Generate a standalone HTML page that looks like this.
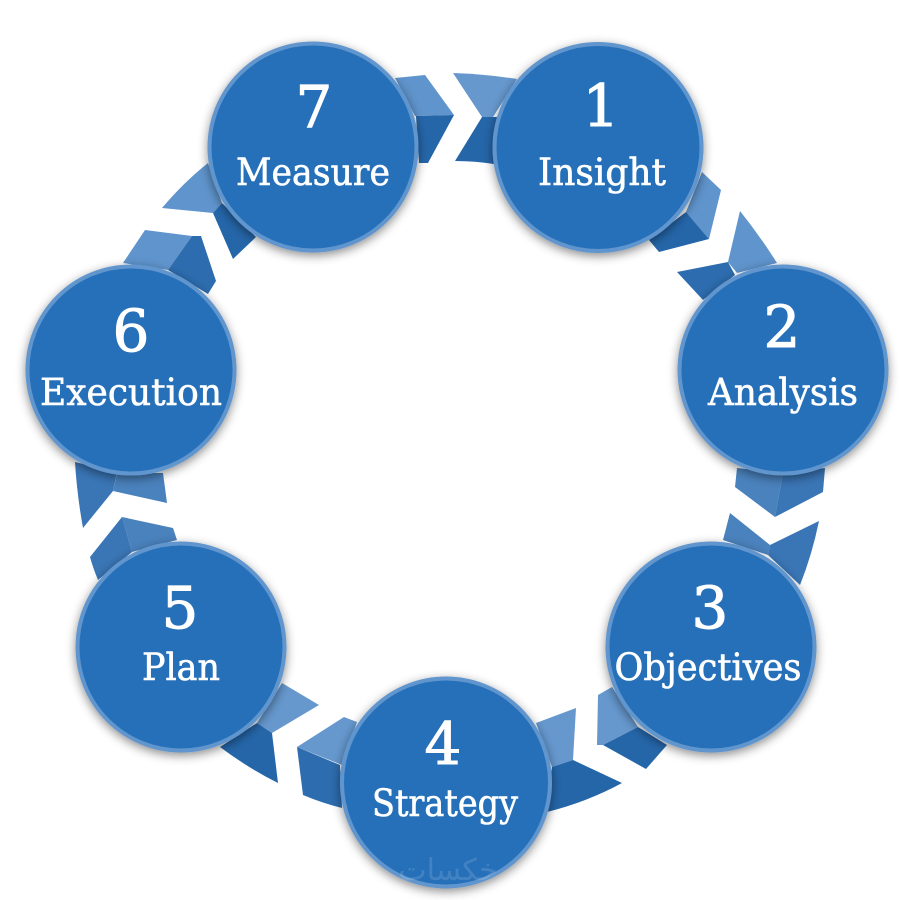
<!DOCTYPE html>
<html>
<head>
<meta charset="utf-8">
<style>
html,body{margin:0;padding:0;background:#fff;width:900px;height:900px;overflow:hidden}
svg{display:block}
text{font-family:"DejaVu Serif","Liberation Serif",serif;fill:#fff;stroke:#fff;stroke-width:.6;text-anchor:middle}
.n{font-size:58px;stroke-width:1}
.l{font-size:37px}
.w{font-family:"DejaVu Sans",sans-serif;font-size:30px;fill:#fff;stroke:none;opacity:.13}
</style>
</head>
<body>
<svg width="900" height="900" viewBox="0 0 900 900" xmlns="http://www.w3.org/2000/svg">
<defs>
<filter id="s" x="-20%" y="-20%" width="140%" height="140%">
<feDropShadow dx="0" dy="3" stdDeviation="5" flood-color="#000" flood-opacity=".45"/>
</filter>
</defs>

<!-- 7 to 1 -->
<polygon fill="#5f94cc" points="395,78 425,75 454,115 415,116"/>
<polygon fill="#2566a9" points="416,116 454,115 428,163 419,163"/>
<path fill="#6698ce" d="M453,73 Q485,74 517,79 L493,117 L482,117 Z"/>
<path fill="#2566a9" d="M482,117 L497,117 L494,164 Q475,161 455,161 Z"/>

<!-- 1 to 2 -->
<polygon fill="#5f94cc" points="702,172 721,190 709,239 686,212"/>
<polygon fill="#2566a9" points="686,212 709,239 659,252 649,240"/>
<path fill="#5f94cc" d="M740,211 Q760,236 777,263 L737,273 L728,262 Z"/>
<polygon fill="#2d6cae" points="677,272 728,262 735,275 703,300"/>

<!-- 2 to 3 -->
<polygon fill="#4a82bd" points="737,468 735,487 775,517 783,473"/>
<polygon fill="#3a75b5" points="783,473 825,468 823,492 775,517"/>
<polygon fill="#4a82bd" points="730,513 770,545 768,555 723,540"/>
<path fill="#3a75b5" d="M770,545 L819,521 Q812,555 800,585 L768,555 Z"/>

<!-- 3 to 4 -->
<polygon fill="#6698ce" points="598,695 612,687 638,727 603,745 597,745"/>
<polygon fill="#2566a9" points="603,745 638,727 667,745 646,769"/>
<polygon fill="#6698ce" points="536,723 576,708 573,760 552,767"/>
<path fill="#2566a9" d="M573,760 L622,783 Q587,802 547,812 L552,767 Z"/>

<!-- 4 to 5 -->
<polygon fill="#6698ce" points="344,717 357,722 342,765 297,747"/>
<path fill="#2d6cae" d="M297,747 L340,765 L342,808 Q322,803 303,795 Z"/>
<polygon fill="#6698ce" points="282,683 319,705 272,733 257,723"/>
<path fill="#2566a9" d="M257,723 L272,733 L278,783 Q248,768 220,747 Z"/>

<!-- 5 to 6 -->
<polygon fill="#4a82bd" points="122,517 173,528 177,540 132,552"/>
<path fill="#3a75b5" d="M122,517 L132,552 L98,580 Q93,568 90,557 Z"/>
<path fill="#3a75b5" d="M75,462 L117,472 L113,491 L83,528 Q77,495 75,462 Z"/>
<polygon fill="#4a82bd" points="117,473 163,473 167,503 113,491"/>

<!-- 6 to 7 -->
<polygon fill="#5f94cc" points="145,230 192,236 168,270 123,263"/>
<polygon fill="#2d6cae" points="192,236 201,236 216,281 208,294 168,270"/>
<path fill="#5f94cc" d="M162,208 Q184,182 208,163 L222,203 L213,213 Z"/>
<polygon fill="#2566a9" points="213,213 222,203 256,237 233,259"/>

<!-- circles -->
<g fill="#2570b9" stroke="#6195cd" stroke-width="4" filter="url(#s)">
<circle cx="598" cy="147.500" r="103.500"/>
<circle cx="783" cy="370" r="103.500"/>
<circle cx="711" cy="647" r="103.500"/>
<circle cx="446" cy="782.500" r="104"/>
<circle cx="181" cy="647" r="103.500"/>
<circle cx="131" cy="370" r="103.500"/>
<circle cx="313" cy="147" r="103.500"/>
</g>

<text class="w" x="448" y="880">خكسات</text>

<!-- labels -->
<text class="n" x="601" y="126">1</text>
<text class="l" x="602" y="185" textLength="128" lengthAdjust="spacingAndGlyphs">Insight</text>
<text class="n" x="782" y="347">2</text>
<text class="l" x="783" y="405" textLength="150" lengthAdjust="spacingAndGlyphs">Analysis</text>
<text class="n" x="710" y="628">3</text>
<text class="l" x="708" y="680" textLength="187" lengthAdjust="spacingAndGlyphs">Objectives</text>
<text class="n" x="443" y="764">4</text>
<text class="l" x="445" y="816" textLength="146" lengthAdjust="spacingAndGlyphs">Strategy</text>
<text class="n" x="180" y="628">5</text>
<text class="l" x="181" y="680" textLength="78" lengthAdjust="spacingAndGlyphs">Plan</text>
<text class="n" x="131" y="351">6</text>
<text class="l" x="131" y="405" textLength="182" lengthAdjust="spacingAndGlyphs">Execution</text>
<text class="n" x="314" y="127">7</text>
<text class="l" x="313" y="185" textLength="154" lengthAdjust="spacingAndGlyphs">Measure</text>
</svg>
</body>
</html>
